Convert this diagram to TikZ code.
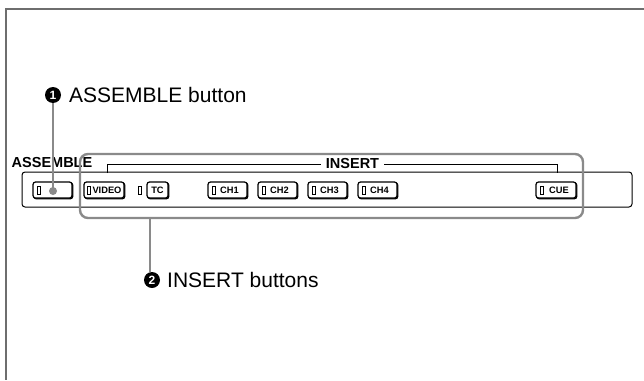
\documentclass[tikz,border=0pt]{standalone}
\usepackage{fontspec}
\setmainfont{Liberation Sans}
\usetikzlibrary{shadows}
\definecolor{framegray}{HTML}{6E6E6E}
\definecolor{leadgray}{HTML}{8A8A8A}
\tikzset{
  btn/.style={draw=black, fill=white, line width=1.2pt, rounded corners=2.5pt,
    minimum height=16pt, inner sep=0pt,
    copy shadow={shadow xshift=0.8pt, shadow yshift=-0.8pt},
    font=\bfseries\fontsize{9.3}{10}\selectfont},
  led/.style={draw=black, fill=white, line width=0.9pt, minimum width=3pt, minimum height=8pt, inner sep=0pt},
  lead/.style={draw=leadgray, line width=2.4pt},
  num/.style={circle, fill=black, text=white, inner sep=0pt, minimum size=16pt, font=\bfseries\fontsize{12}{13}\selectfont},
  callout/.style={font=\fontsize{21}{24}\selectfont, anchor=west, inner sep=0pt},
  panellab/.style={font=\bfseries\fontsize{14.5}{16}\selectfont, inner sep=0pt}
}
\begin{document}
\begin{tikzpicture}[x=1pt, y=-1pt]
\useasboundingbox (0,0) rectangle (644,380);
% outer frame
\draw[framegray, line width=2pt] (644,9) -- (6,9) -- (6,380);
% panel
\node[draw=black, line width=1pt, rounded corners=3pt, minimum width=610pt, minimum height=35pt, inner sep=0pt] (panel) at (327,189.5) {};
% labels
\node[panellab] (asmlab) at (52,163) {ASSEMBLE};
\node[panellab, fill=white, inner xsep=5pt] (inslab) at (352.5,164) {INSERT};
\coordinate (brL) at (107,173);
\coordinate (brR) at (557,173);
\draw[black, line width=1pt] (brL) -- (107,164) -- (inslab.west);
\draw[black, line width=1pt] (inslab.east) -- (557,164) -- (brR);
% buttons
\node[btn, minimum width=39pt] (bAsm) at (52.5,190) {};
\node[led] (lAsm) at (38.5,190) {};
\node[btn, minimum width=40pt] (bVid) at (104,190) {\hspace*{6pt}VIDEO};
\node[led] (lVid) at (89,190) {};
\node[led] (lTC) at (139.5,190) {};
\node[btn, minimum width=21pt] (bTC) at (157.5,190) {TC};
\node[btn, minimum width=39pt] (bCH1) at (227.5,190) {\hspace*{4pt}CH1};
\node[led] (lCH1) at (213.5,190) {};
\node[btn, minimum width=39pt] (bCH2) at (277.5,190) {\hspace*{4pt}CH2};
\node[led] (lCH2) at (263.5,190) {};
\node[btn, minimum width=39pt] (bCH3) at (327.5,190) {\hspace*{4pt}CH3};
\node[led] (lCH3) at (313.5,190) {};
\node[btn, minimum width=39pt] (bCH4) at (377.5,190) {\hspace*{4pt}CH4};
\node[led] (lCH4) at (363.5,190) {};
\node[btn, minimum width=40pt] (bCUE) at (556,190) {\hspace*{6pt}CUE};
\node[led] (lCUE) at (542,190) {};
% insert group box
\node[draw=leadgray, line width=2.4pt, rounded corners=8pt, minimum width=503pt, minimum height=64pt, inner sep=0pt] (grp) at (331.5,186) {};
% callout 1
\node[num] (n1) at (53,95) {1};
\node[callout] (t1) at (69,95) {ASSEMBLE button};
\node[circle, fill=leadgray, inner sep=0pt, minimum size=8pt] (dot1) at (53,191) {};
\draw[lead] (n1.south) -- (dot1.center);
% callout 2
\node[num] (n2) at (152,280) {2};
\node[callout] (t2) at (167,280) {INSERT buttons};
\coordinate (g2) at (150,218);
\draw[lead] (g2) -- (150,272);
\end{tikzpicture}
\end{document}
